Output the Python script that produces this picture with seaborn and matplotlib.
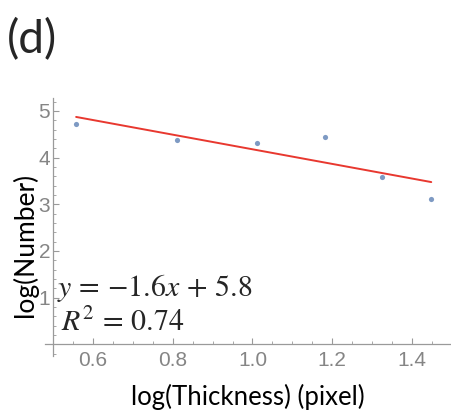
import pandas as pd
import matplotlib.pyplot as plt
import matplotlib.ticker as ticker
import seaborn as sns

# values
log_thickness = [0.558, 0.810, 1.012, 1.181, 1.324, 1.448]
log_number = [4.715, 4.38, 4.31, 4.44, 3.59, 3.115]
x_ticks = [0.6, 0.8, 1.0, 1.2, 1.4]
y_ticks = [1, 2, 3, 4, 5]

df = pd.DataFrame({'log_thickness': log_thickness, 'log_number': log_number})

sns.set_style('white')
plt.rcParams['font.family'] = ['Lato', 'DejaVu Sans']
plt.rcParams['mathtext.fontset'] = 'stix'

fig = plt.figure(figsize=(4.51, 4.13), dpi=100)
ax = fig.add_axes([0.0998, 0.138, 0.9002, 0.625])

point_col = '#5E81B5'
line_col = '#E8382F'
axis_col = '#9a9a9a'

sns.regplot(data=df, x='log_thickness', y='log_number', ax=ax, ci=None,
            scatter_kws={'s': 14, 'color': point_col, 'linewidths': 0},
            line_kws={'color': line_col, 'lw': 1.4})

ax.set_xlim(0.48, 1.4975)
ax.set_ylim(-0.25, 5.28)

# Mathematica-like crossing axes
ax.spines['left'].set_position(('data', 0.5))
ax.spines['bottom'].set_position(('data', 0))
ax.spines['top'].set_visible(False)
ax.spines['right'].set_visible(False)
for s in ['left', 'bottom']:
    ax.spines[s].set_color(axis_col)
    ax.spines[s].set_linewidth(0.9)

ax.set_xticks(x_ticks)
ax.set_yticks(y_ticks)
ax.xaxis.set_minor_locator(ticker.MultipleLocator(0.05))
ax.yaxis.set_minor_locator(ticker.MultipleLocator(0.2))
ax.xaxis.set_major_formatter(ticker.FormatStrFormatter('%.1f'))
ax.tick_params(which='both', direction='in', color=axis_col, labelcolor='#858585',
               labelsize=15, bottom=True, left=True)
ax.tick_params(which='major', length=4.5, width=0.8, pad=2)
ax.tick_params(which='minor', length=2.5, width=0.6)
ax.tick_params(axis='x', which='major', pad=5)
for lab in ax.get_xticklabels() + ax.get_yticklabels():
    lab.set_family(['Liberation Sans', 'DejaVu Sans'])

ax.set_xlabel('log(Thickness) (pixel)', fontsize=18.5, color='black')
ax.set_ylabel('log(Number)', fontsize=19, color='black')
ax.xaxis.set_label_coords(0.5, -0.108)
ax.yaxis.set_label_coords(-0.017, 0.43)

ax.text(0.51, 1.21, r'$y\,=\,{-}1.6x\,+\,5.8$', fontsize=21.5, va='center', ha='left')
ax.text(0.52, 0.48, r'$R^2\,=\,0.74$', fontsize=21.5, va='center', ha='left')

fig.text(0.016, 0.905, '(d)', fontsize=33, va='center', ha='left')

plt.savefig('out.png', dpi=100)
